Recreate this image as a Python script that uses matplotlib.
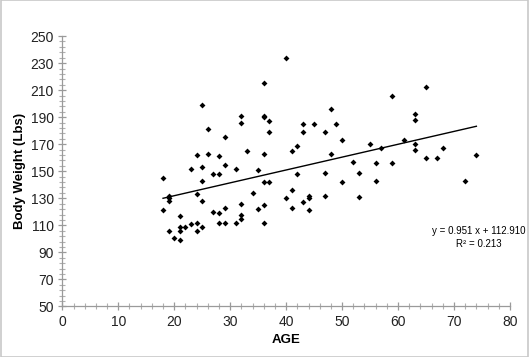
import matplotlib.pyplot as plt
from matplotlib.ticker import MultipleLocator, FixedLocator
from matplotlib.patches import Rectangle
import numpy as np

plt.rcParams['font.family'] = ['Liberation Sans', 'DejaVu Sans']

# ages and weights
age = [18, 18,
       19, 19, 19, 19,
       20,
       21, 21, 21, 21,
       22,
       23, 23,
       24, 24, 24, 24,
       25, 25, 25, 25, 25,
       26, 26,
       27, 27,
       28, 28, 28, 28,
       29, 29, 29, 29,
       31, 31,
       32, 32, 32, 32, 32,
       33, 34, 35, 35,
       36, 36, 36, 36, 36, 36, 36,
       37, 37, 37,
       40, 40,
       41, 41, 41,
       42, 42,
       43, 43, 43,
       44, 44, 44,
       45,
       47, 47, 47,
       48, 48,
       49,
       50, 50,
       52,
       53, 53,
       55,
       56, 56,
       57,
       59, 59,
       61,
       63, 63, 63, 63,
       65, 65,
       67, 68, 72, 74]
weight = [145, 121,
          132, 130, 128, 106,
          101,
          99, 117, 109, 106,
          109,
          152, 111,
          162, 133, 112, 106,
          199, 153, 143, 128, 109,
          181, 163,
          148, 120,
          161, 148, 119, 112,
          175, 155, 123, 112,
          152, 112,
          191, 186, 126, 118, 115,
          165, 134, 151, 122,
          215, 191, 190, 163, 142, 125, 112,
          187, 179, 142,
          234, 130,
          165, 136, 123,
          169, 148,
          185, 179, 127,
          132, 130, 121,
          185,
          179, 149, 132,
          196, 163,
          185,
          173, 142,
          157,
          149, 131,
          170,
          156, 143,
          167,
          206, 156,
          173,
          192, 188, 170, 166,
          212, 160,
          160, 167, 143, 162]

# trendline as printed on the chart
slope = 0.951
intercept = 112.910
r2 = 0.213

yticks = [50, 70, 90, 110, 130, 150, 170, 190, 210, 230, 250]

fig = plt.figure(figsize=(5.29, 3.57), dpi=100)
ax = fig.add_axes([0.1178, 0.1415, 0.8462, 0.7575])

ax.scatter(age, weight, marker='D', s=9, color='black', zorder=3, linewidths=0)

xs = np.array([min(age), max(age)])
ax.plot(xs, slope * xs + intercept, color='black', lw=1.0, zorder=2)

ax.text(74.5, 105.5, 'y = %.3f x + %.3f' % (slope, intercept), ha='center', va='center', fontsize=7)
ax.text(74.5, 96.5, 'R² = %.3f' % r2, ha='center', va='center', fontsize=7)

ax.set_xlim(0, 80)
ax.set_ylim(50, 250)
ax.xaxis.set_major_locator(MultipleLocator(10))
ax.xaxis.set_minor_locator(MultipleLocator(2))
ax.yaxis.set_major_locator(FixedLocator(yticks))
ax.yaxis.set_minor_locator(MultipleLocator(4, offset=2))

for s in ['top', 'right']:
    ax.spines[s].set_visible(False)
for s in ['left', 'bottom']:
    ax.spines[s].set_color('#9a9a9a')
    ax.spines[s].set_linewidth(0.9)

ax.tick_params(which='major', direction='inout', length=6, width=0.9, color='#9a9a9a',
               labelsize=10, labelcolor='#222222', pad=3)
ax.tick_params(which='minor', direction='inout', length=4, width=0.8, color='#b0b0b0')

ax.set_xlabel('AGE', fontsize=9.5, fontweight='bold', labelpad=4)
ax.set_ylabel('Body Weight (Lbs)', fontsize=9.5, fontweight='bold', labelpad=3)

fig.patches.append(Rectangle((0.001, 0.001), 0.998, 0.998, transform=fig.transFigure,
                             fill=False, edgecolor='#c8c8c8', lw=1.2))

fig.savefig('out.png', dpi=100)
